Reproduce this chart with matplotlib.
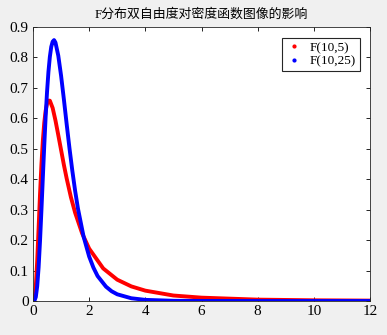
import matplotlib
matplotlib.use('Agg')
import matplotlib.pyplot as plt
from matplotlib.lines import Line2D

# values
x_a = [0, 0.05, 0.1, 0.15, 0.2, 0.25, 0.3, 0.35, 0.4, 0.45, 0.5, 0.55, 0.6, 0.7, 0.8, 0.9,
       1.0, 1.1, 1.2, 1.35, 1.5, 1.75, 2.0, 2.5, 3.0, 3.5, 4.0, 5.0, 6.0, 8.0, 10.0, 12.0]
y_a = [0, 0.006, 0.048, 0.133, 0.241, 0.351, 0.448, 0.526, 0.585, 0.625, 0.648, 0.658, 0.658,
       0.634, 0.593, 0.545, 0.496, 0.447, 0.402, 0.341, 0.290, 0.222, 0.172, 0.107, 0.070,
       0.048, 0.034, 0.018, 0.011, 0.0045, 0.0023, 0.0013]

x_b = [0, 0.05, 0.1, 0.15, 0.2, 0.25, 0.3, 0.35, 0.4, 0.45, 0.5, 0.55, 0.6, 0.65, 0.7, 0.75,
       0.8, 0.9, 1.0, 1.1, 1.2, 1.3, 1.4, 1.5, 1.6, 1.8, 2.0, 2.15, 2.3, 2.6, 2.8, 3.0, 3.5,
       4.0, 5.0, 6.0, 8.0, 12.0]
y_b = [0, 0.001, 0.013, 0.049, 0.111, 0.197, 0.298, 0.405, 0.509, 0.605, 0.687, 0.753, 0.802,
       0.835, 0.852, 0.857, 0.849, 0.806, 0.740, 0.662, 0.580, 0.501, 0.428, 0.362, 0.304,
       0.212, 0.146, 0.110, 0.082, 0.047, 0.032, 0.022, 0.009, 0.0037, 0.0007, 0.0002, 0, 0]

labels = ['F(10,5)', 'F(10,25)']
colors = ['red', 'blue']
title = 'F分布双自由度对密度函数图像的影响'
xticks = [0, 2, 4, 6, 8, 10, 12]
yticks = [0, 0.1, 0.2, 0.3, 0.4, 0.5, 0.6, 0.7, 0.8, 0.9]

plt.rcParams['font.family'] = ['Liberation Serif', 'Noto Sans CJK SC']

fig = plt.figure(figsize=(3.87, 3.35), dpi=100, facecolor='#f0f0f0')
ax = fig.add_axes([33/387, 1-301/335, 337/387, 274/335])

ax.plot(x_a, y_a, color=colors[0], lw=2.8, solid_joinstyle='round')
ax.plot(x_b, y_b, color=colors[1], lw=2.8, solid_joinstyle='round')

ax.set_xlim(0, 12)
ax.set_ylim(0, 0.9)
ax.set_xticks(xticks)
ax.set_yticks(yticks)
ax.set_xticklabels([str(t) for t in xticks])
ax.set_yticklabels(['0'] + [f'{t:.1f}' for t in yticks[1:]])
ax.tick_params(direction='in', top=True, right=True, labelsize=11, length=3, width=0.6, pad=3)
for s in ax.spines.values():
    s.set_linewidth(0.6)
    s.set_color('#262626')

ax.set_title(title, fontsize=9.3, pad=7)

handles = [Line2D([], [], ls='none', marker='.', ms=4, color=c) for c in colors]
leg = ax.legend(handles, labels, loc='upper right', fontsize=9.5, fancybox=False,
                edgecolor='#262626', framealpha=1, handlelength=1.2, handletextpad=0.6,
                borderpad=0.3, labelspacing=0.1, bbox_to_anchor=(0.99, 0.985))
leg.get_frame().set_linewidth(0.8)

fig.savefig('out.png', dpi=100, facecolor=fig.get_facecolor())
